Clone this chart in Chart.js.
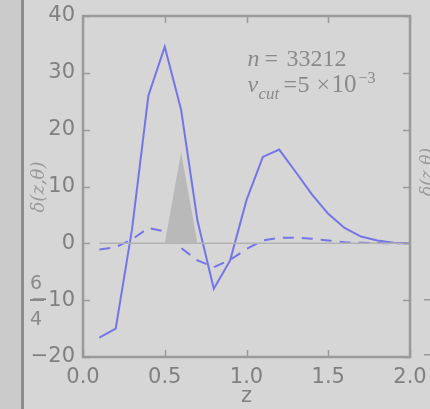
<!DOCTYPE html>
<html>
<head>
<meta charset="utf-8">
<script src="https://cdn.jsdelivr.net/npm/chart.js@4.4.0/dist/chart.umd.min.js"></script>
<style>
  html, body { margin: 0; padding: 0; background: #d6d6d6; }
  canvas { display: block; }
</style>
</head>
<body>
<canvas id="myChart" width="430" height="409"></canvas>
<script>
// valores
const zValues = [0.1, 0.2, 0.3, 0.4, 0.5, 0.6, 0.7, 0.8, 0.9, 1.0, 1.1, 1.2, 1.3, 1.4, 1.5, 1.6, 1.7, 1.8, 1.9, 2.0];
const deltaSolid = [-16.6, -15.0, 2.5, 26.0, 34.6, 23.5, 4.0, -8.0, -3.0, 7.6, 15.2, 16.5, 12.6, 8.6, 5.2, 2.7, 1.2, 0.5, 0.1, 0.0];
const deltaDashed = [-1.1, -0.7, 0.7, 2.7, 2.1, -0.8, -3.0, -4.2, -2.9, -1.0, 0.5, 1.0, 1.0, 0.8, 0.5, 0.2, 0.1, 0.05, 0.0, 0.0];
const shadeZ = [0.5, 0.6, 0.7];
const shadeValues = [0, 16, 0];
const zeroZ = [0.1, 2.0];
const zeroValues = [0, 0];
const xTicks = [0.0, 0.5, 1.0, 1.5, 2.0];
const yTicks = [-20, -10, 0, 10, 20, 30, 40];

const labelColor = '#808080';
const spineColor = '#9a9a9a';

function toPoints(xs, ys) {
    return xs.map((x, i) => ({ x: x, y: ys[i] }));
}

// fondo, marcos y textos extra
const decorPlugin = {
    id: 'decor',
    beforeDraw(chart) {
        const ctx = chart.ctx;
        ctx.save();
        ctx.fillStyle = '#d6d6d6';
        ctx.fillRect(0, 0, chart.width, chart.height);
        ctx.fillStyle = '#cbcbcb';
        ctx.fillRect(0, 0, 21, chart.height);
        ctx.fillStyle = '#8c8c8c';
        ctx.fillRect(21, 0, 3, chart.height);
        ctx.restore();
    },
    afterDraw(chart) {
        const ctx = chart.ctx;
        const a = chart.chartArea;
        const xs = chart.scales.x;
        const ys = chart.scales.y;
        ctx.save();
        // ticks hacia adentro
        ctx.strokeStyle = spineColor;
        ctx.lineWidth = 1.5;
        ctx.beginPath();
        yTicks.forEach(v => {
            const py = Math.round(ys.getPixelForValue(v)) + 0.5;
            ctx.moveTo(a.left, py); ctx.lineTo(a.left + 7, py);
            ctx.moveTo(a.right, py); ctx.lineTo(a.right - 7, py);
        });
        xTicks.forEach(v => {
            const px = Math.round(xs.getPixelForValue(v)) + 0.5;
            ctx.moveTo(px, a.bottom); ctx.lineTo(px, a.bottom - 7);
            ctx.moveTo(px, a.top); ctx.lineTo(px, a.top + 7);
        });
        ctx.stroke();
        // marco
        ctx.lineWidth = 2.5;
        ctx.strokeRect(a.left, a.top, a.right - a.left, a.bottom - a.top);

        // anotacion
        ctx.fillStyle = '#8a8a8a';
        ctx.textBaseline = 'alphabetic';
        const x0 = xs.getPixelForValue(1.0);
        ctx.font = 'italic 24px "Liberation Serif"';
        ctx.fillText('n', x0 + 1, 66);
        ctx.font = '24px "Liberation Serif"';
        ctx.fillText('=', x0 + 18, 66);
        ctx.fillText('33212', x0 + 40, 66);
        ctx.font = 'italic 24px "Liberation Serif"';
        ctx.fillText('v', x0 + 1, 92);
        ctx.font = 'italic 17px "Liberation Serif"';
        ctx.fillText('cut', x0 + 12, 99);
        ctx.font = '24px "Liberation Serif"';
        ctx.fillText('=', x0 + 37, 92);
        ctx.fillText('5', x0 + 51, 92);
        ctx.fillText('\u00d7', x0 + 70, 92);
        ctx.font = '25px "Liberation Serif"';
        ctx.fillText('10', x0 + 85, 92);
        ctx.font = '16px "Liberation Serif"';
        ctx.fillText('\u22123', x0 + 112, 83);

        // etiqueta del eje y
        ctx.save();
        ctx.translate(39, 187);
        ctx.rotate(-Math.PI / 2);
        ctx.textAlign = 'center';
        ctx.textBaseline = 'middle';
        ctx.fillStyle = '#9a9a9a';
        ctx.font = 'italic 18px "DejaVu Serif"';
        ctx.fillText('\u03b4(z,\u03b8)', 0, 0);
        ctx.restore();

        // restos del panel vecino
        ctx.fillStyle = '#8a8a8a';
        ctx.font = '19px "DejaVu Sans"';
        ctx.textAlign = 'left';
        ctx.fillText('6', 30, 289);
        ctx.fillText('4', 30, 325);
        ctx.fillRect(30, 299, 14, 2);
        ctx.save();
        ctx.translate(428, 172);
        ctx.rotate(-Math.PI / 2);
        ctx.textAlign = 'center';
        ctx.textBaseline = 'middle';
        ctx.fillStyle = '#9a9a9a';
        ctx.font = 'italic 17px "DejaVu Serif"';
        ctx.fillText('\u03b4(z,\u03b8)', 0, 0);
        ctx.restore();
        ctx.fillStyle = spineColor;
        ctx.fillRect(424, 299, 6, 1.5);
        ctx.fillRect(424, 354, 6, 1.5);
        ctx.restore();
    }
};

const ctx = document.getElementById('myChart').getContext('2d');
const myChart = new Chart(ctx, {
    type: 'line',
    data: {
        datasets: [
            {
                data: toPoints(shadeZ, shadeValues),
                borderWidth: 0,
                pointRadius: 0,
                backgroundColor: '#b9b9b9',
                fill: 'origin'
            },
            {
                data: toPoints(zeroZ, zeroValues),
                borderColor: '#b2b2b2',
                borderWidth: 1.5,
                pointRadius: 0,
                fill: false
            },
            {
                data: toPoints(zValues, deltaDashed),
                borderColor: 'rgba(112, 112, 232, 0.95)',
                borderWidth: 2,
                borderDash: [11, 8],
                pointRadius: 0,
                fill: false
            },
            {
                data: toPoints(zValues, deltaSolid),
                borderColor: 'rgba(112, 112, 232, 0.95)',
                borderWidth: 2,
                pointRadius: 0,
                fill: false
            }
        ]
    },
    options: {
        responsive: false,
        devicePixelRatio: 1,
        animation: false,
        layout: { padding: { top: 16, right: 20, left: 0, bottom: 0 } },
        plugins: {
            legend: { display: false },
            tooltip: { enabled: false }
        },
        scales: {
            x: {
                type: 'linear',
                min: 0,
                max: 2,
                afterFit: s => {
                    s.height = 52;
                    s.paddingLeft = 0;
                    s.paddingRight = 0;
                },
                afterBuildTicks: s => { s.ticks = xTicks.map(v => ({ value: v })); },
                grid: { display: false, drawTicks: false },
                border: { display: false },
                ticks: {
                    padding: 8,
                    color: labelColor,
                    font: { family: 'DejaVu Sans', size: 21 },
                    maxRotation: 0,
                    callback: v => v.toFixed(1)
                },
                title: {
                    display: true,
                    text: 'z',
                    color: labelColor,
                    font: { family: 'DejaVu Sans', size: 21 },
                    padding: { top: 0, bottom: 0 }
                }
            },
            y: {
                min: -20,
                max: 40,
                afterFit: s => {
                    s.width = 83;
                    s.paddingTop = 0;
                    s.paddingBottom = 0;
                },
                afterBuildTicks: s => { s.ticks = yTicks.map(v => ({ value: v })); },
                grid: { display: false, drawTicks: false },
                border: { display: false },
                ticks: {
                    padding: 8,
                    color: labelColor,
                    font: { family: 'DejaVu Sans', size: 21 },
                    callback: v => String(v).replace('-', '\u2212')
                }
            }
        }
    },
    plugins: [decorPlugin]
});
</script>
</body>
</html>
